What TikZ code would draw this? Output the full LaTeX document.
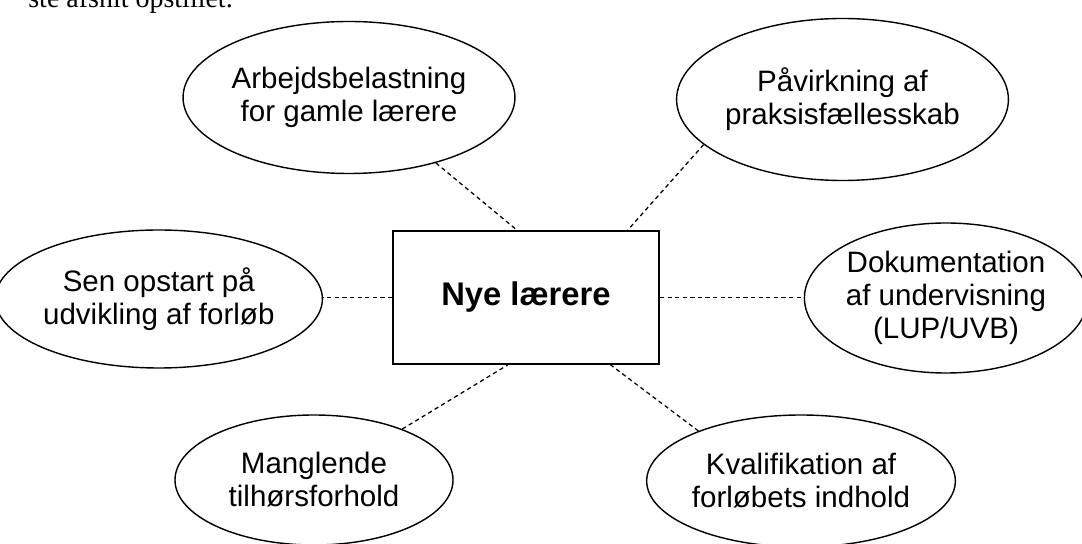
\documentclass[tikz,border=0pt]{standalone}
\usepackage{fontspec}
\setmainfont{Liberation Sans}
\newfontfamily\bodyserif{Liberation Serif}
\usepackage{tikz}
\usetikzlibrary{calc,shapes.geometric,positioning}
\tikzset{
    topic element/.style={
        draw,line width=1pt,ellipse,
        fill=white,inner sep=0pt,
        align=center,
        font=\fontsize{21}{23.5}\selectfont
    },
    main element/.style={
        draw,line width=1.3pt,
        fill=white,
        minimum width=6.65cm,minimum height=3.325cm,
        font=\fontsize{23.3}{26}\selectfont\bfseries
    },
    link/.style={line width=0.9pt,dash pattern=on 3pt off 2.4pt}
}
\begin{document}
\begin{tikzpicture}
\useasboundingbox (0,0) rectangle (27.05,13.6);
\clip (0,0) rectangle (27.05,13.6);
\node[font=\bodyserif\fontsize{19.9}{22}\selectfont,anchor=base east,inner sep=0pt] (pagetext) at (5.825,13.42) {ste afsnit opstillet.};
\node[main element] (box) at (13.15,6.1625) {Nye lærere};
\node[topic element,minimum width=8.05cm,minimum height=3.8cm] (arb) at (8.725,11.1625) {Arbejdsbelastning\\for gamle lærere};
\node[topic element,minimum width=7.475cm,minimum height=4.05cm] (pav) at (21.0625,11.1125) {Påvirkning af\\praksisfællesskab};
\node[topic element,minimum width=7.6cm,minimum height=3.45cm] (sen) at (3.97,6.125) {Sen opstart på\\udvikling af forløb};
\node[topic element,minimum width=6.8cm,minimum height=3.75cm] (dok) at (23.65,6.15) {Dokumentation\\af undervisning\\(LUP/UVB)};
\node[topic element,minimum width=6.95cm,minimum height=3.25cm] (man) at (7.85,1.6) {Manglende\\tilhørsforhold};
\node[topic element,minimum width=7.1cm,minimum height=3.3cm] (kva) at (20.025,1.575) {Kvalifikation af\\forløbets indhold};
% dotted links to the box
\foreach \e/\a/\f in {arb/-37/0.466,pav/198.4/0.88}
    \draw[link] (\e.\a) -- ($(box.north west)!\f!(box.north east)$);
\foreach \e/\a/\f in {man/30/0.432,kva/154.6/0.816}
    \draw[link] (\e.\a) -- ($(box.south west)!\f!(box.south east)$);
\draw[link] (box.west) -- (box.west -| sen.east);
\draw[link] (box.east) -- (box.east -| dok.west);
\end{tikzpicture}
\end{document}
